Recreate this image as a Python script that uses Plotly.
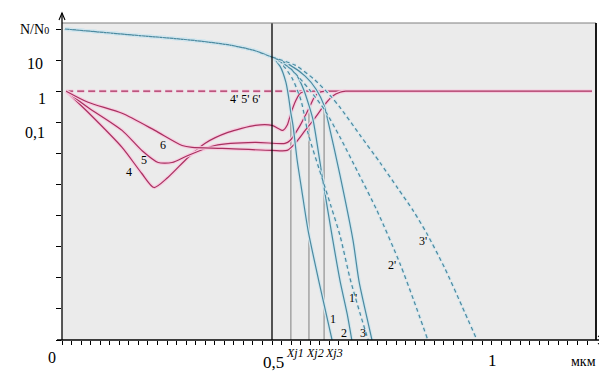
import plotly.graph_objects as go

# ---------------- data (x in мкм, y = N/N0) ----------------
trunk_x = [0.007, 0.09, 0.169, 0.257, 0.329, 0.40, 0.46, 0.50]
trunk_y = [100, 80, 64, 51, 41, 30.5, 20, 12.5]

c1_x = [0.519, 0.533, 0.540, 0.545, 0.550, 0.560, 0.571, 0.586, 0.614, 0.643]
c1_y = [6.4, 1.95, 0.59, 0.195, 0.080, 0.0059, 6.4e-4, 3.3e-5, 5.5e-7, 1e-8]

c2_x = [0.531, 0.560, 0.576, 0.588, 0.598, 0.621, 0.645, 0.662, 0.679, 0.690]
c2_y = [7.4, 3.05, 1.08, 0.35, 0.116, 0.00135, 1.56e-5, 8e-7, 6.9e-8, 1e-8]

c3_x = [0.543, 0.579, 0.605, 0.624, 0.633, 0.662, 0.693, 0.707, 0.724, 0.738]
c3_y = [6.9, 3.05, 1.16, 0.35, 0.116, 0.00195, 1.56e-5, 8e-7, 6.9e-8, 1e-8]

c1p_x = [0.524, 0.548, 0.569, 0.586, 0.621, 0.640, 0.662, 0.686, 0.710, 0.729]
c1p_y = [7.4, 2.6, 0.51, 0.044, 0.00135, 2.1e-4, 2.26e-5, 9.3e-7, 6.9e-8, 1e-8]

c2p_x = [0.543, 0.590, 0.626, 0.662, 0.705, 0.750, 0.805, 0.838, 0.871]
c2p_y = [5.5, 1.08, 0.24, 0.033, 0.0024, 1.45e-4, 2.8e-6, 1.8e-7, 1e-8]

c3p_x = [0.555, 0.602, 0.638, 0.662, 0.710, 0.757, 0.800, 0.836, 0.869, 0.912, 0.952, 0.988]
c3p_y = [6.9, 2.3, 0.74, 0.30, 0.038, 0.0051, 7.4e-4, 1.45e-4, 2.6e-5, 1.95e-6, 1.25e-7, 1e-8]

r4_x = [0.010, 0.062, 0.143, 0.190, 0.219, 0.252, 0.300, 0.340, 0.395, 0.460, 0.500,
        0.526, 0.536, 0.545, 0.557, 0.567, 0.579]
r4_y = [1, 0.21, 0.0156, 0.00226, 8e-4, 0.00168, 0.0074, 0.021, 0.0475, 0.080, 0.080,
        0.055, 0.080, 0.195, 0.51, 0.86, 1]

r5_x = [0.010, 0.062, 0.143, 0.190, 0.229, 0.262, 0.300, 0.364, 0.460, 0.531, 0.543,
        0.567, 0.588, 0.602, 0.614, 0.629]
r5_y = [1, 0.30, 0.055, 0.0125, 0.0051, 0.0051, 0.0086, 0.018, 0.0226, 0.021, 0.026,
        0.080, 0.28, 0.68, 0.93, 1]

r6_x = [0.010, 0.062, 0.143, 0.221, 0.286, 0.310, 0.381, 0.500, 0.536, 0.555, 0.579,
        0.602, 0.624, 0.643, 0.662, 0.676]
r6_y = [1, 0.44, 0.195, 0.055, 0.018, 0.0156, 0.0145, 0.0125, 0.0125, 0.021, 0.055,
        0.135, 0.35, 0.68, 0.93, 1]

flat_dash_x = [0.010, 0.545]
flat_solid_x = [0.545, 1.262]
flat_y = 1

xj_x = [0.545, 0.588, 0.624]
xj_top = [0.195, 0.35, 0.35]
xj_labels = ["<i>Xj1</i>", "<i>Xj2</i>", "<i>Xj3</i>"]
x_mark = 0.5

y_tickvals = [10.0 ** k for k in range(-8, 3)]

BLUE = "#4b8aa0"
BLUE_HALO = "#d3e6ee"
RED = "#a8305f"
RED_HALO = "#f6cbdf"
FONT = "Liberation Serif"

fig = go.Figure()


def add_line(x, y, color, halo, dash="solid", width=1.2):
    fig.add_trace(go.Scatter(x=x, y=y, mode="lines", hoverinfo="skip",
                             line=dict(color=halo, width=3.5, dash=dash, shape="spline", smoothing=0.7)))
    fig.add_trace(go.Scatter(x=x, y=y, mode="lines", hoverinfo="skip",
                             line=dict(color=color, width=width, dash=dash, shape="spline", smoothing=0.7)))


# vertical Xj lines
for xv, top in zip(xj_x, xj_top):
    fig.add_trace(go.Scatter(x=[xv, xv], y=[top, 1e-8], mode="lines", hoverinfo="skip",
                             line=dict(color="#7f7f7f", width=1)))

# red curves
add_line(flat_dash_x, [flat_y, flat_y], RED, RED_HALO, dash="7px,4px")
add_line(flat_solid_x, [flat_y, flat_y], RED, RED_HALO)
for rx, ry in [(r4_x, r4_y), (r5_x, r5_y), (r6_x, r6_y)]:
    add_line(rx, ry, RED, RED_HALO)

# blue curves
for bx, by, dash in [(c1_x, c1_y, "solid"), (c2_x, c2_y, "solid"), (c3_x, c3_y, "solid"),
                     (c1p_x, c1p_y, "4px,3px"), (c2p_x, c2p_y, "4px,3px"), (c3p_x, c3p_y, "4px,3px")]:
    add_line(trunk_x + bx, trunk_y + by, BLUE, BLUE_HALO, dash=dash)

# the page body has an 8px default margin; compensate so the plot lands where the reference has it
OFF = 8
W, H = 607 - OFF, 373 - OFF
L, R, T, B = 62, 596, 23, 340   # plot area in window pixels


def pp(px, py):
    return (px - L) / (R - L), (B - py) / (B - T)


shapes = []
shapes.append(dict(type="line", xref="x", yref="paper", x0=x_mark, x1=x_mark, y0=0, y1=1,
                   line=dict(color="black", width=1.3)))
shapes.append(dict(type="line", xref="paper", yref="paper", x0=0, x1=1, y0=1, y1=1,
                   line=dict(color="#808080", width=1.2)))
shapes.append(dict(type="line", xref="paper", yref="paper", x0=1, x1=1, y0=0, y1=1,
                   line=dict(color="black", width=1.8)))
x0, _ = pp(57, 340)
x1, _ = pp(604, 340)
shapes.append(dict(type="line", xref="paper", yref="paper", x0=x0, x1=x1, y0=0, y1=0,
                   line=dict(color="black", width=1.3)))
a1 = pp(598, 336); a2 = pp(604, 340); a3 = pp(598, 344)
shapes.append(dict(type="path", xref="paper", yref="paper",
                   path=f"M {a1[0]},{a1[1]} L {a2[0]},{a2[1]} L {a3[0]},{a3[1]}",
                   line=dict(color="black", width=1.1)))
_, ytop = pp(62, 13)
shapes.append(dict(type="line", xref="paper", yref="paper", x0=0, x1=0, y0=0, y1=ytop,
                   line=dict(color="black", width=1.3)))
b1 = pp(59, 20); b2 = pp(62, 13); b3 = pp(65, 20)
shapes.append(dict(type="path", xref="paper", yref="paper",
                   path=f"M {b1[0]},{b1[1]} L {b2[0]},{b2[1]} L {b3[0]},{b3[1]}",
                   line=dict(color="black", width=1.1)))

annotations = []


def label(text, px, py, size):
    ax_, ay_ = pp(px, py)
    annotations.append(dict(text=text, x=ax_, y=ay_, xref="paper", yref="paper", showarrow=False,
                            xanchor="center", yanchor="middle",
                            font=dict(family=FONT, size=size, color="black")))


label("N/N<span style='font-size:10px'>0</span>", 34, 29, 14)
label("10", 35, 63, 16)
label("1", 42, 99, 16)
label("0,1", 35, 133, 16)
label("0", 52, 357, 16)
label("0,5", 273, 362, 17)
label("1", 492, 360, 17)
label("мкм", 583, 361, 14)
for txt, px in zip(xj_labels, [295, 315, 334]):
    label(txt, px, 353, 12)

for txt, px, py in [("1", 333, 319), ("2", 344, 333), ("3", 363, 333),
                    ("1'", 353, 298), ("2'", 392, 265), ("3'", 423, 241),
                    ("4", 129, 172), ("5", 144, 160), ("6", 163, 145),
                    ("4' 5' 6'", 245, 99)]:
    label(txt, px, py, 12)

fig.update_layout(
    width=W, height=H, autosize=False,
    margin=dict(l=L - OFF, r=607 - R, t=T - OFF, b=373 - B, pad=0),
    paper_bgcolor="white", plot_bgcolor="#ebebeb",
    showlegend=False,
    shapes=shapes, annotations=annotations,
    xaxis=dict(range=[0, (R - L) / 420], showgrid=False, zeroline=False, showline=False,
               ticks="outside", ticklen=4, tickwidth=1, tickcolor="black",
               tick0=0, dtick=0.5 / 22, showticklabels=False, fixedrange=True),
    yaxis=dict(type="log", range=[-8, 2 + 6 / 31], showgrid=False, zeroline=False, showline=False,
               ticks="outside", ticklen=5, tickwidth=1, tickcolor="black",
               tickmode="array", tickvals=y_tickvals, showticklabels=False, fixedrange=True),
)

fig.write_html("out.html")
